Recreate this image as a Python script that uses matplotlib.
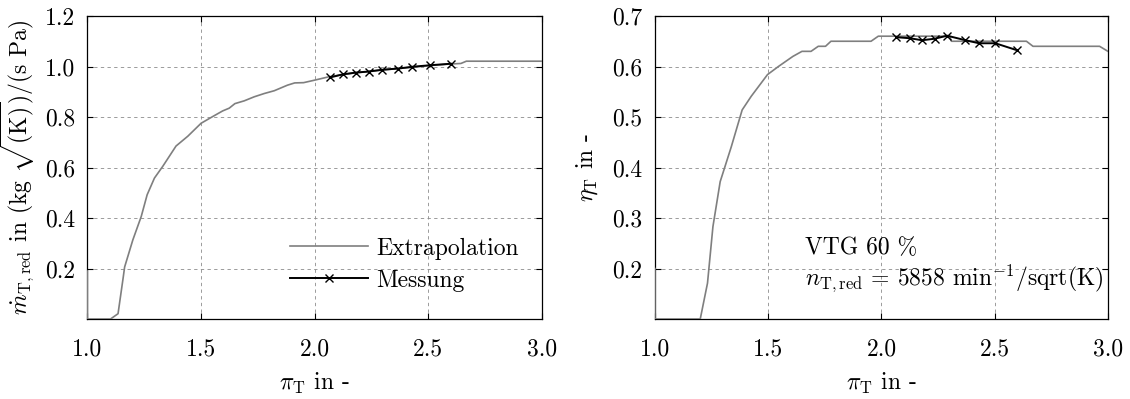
import numpy as np
import matplotlib
matplotlib.use("Agg")
import matplotlib.pyplot as plt

plt.rcParams['font.family'] = ['cmr10', 'DejaVu Serif']
plt.rcParams['mathtext.fontset'] = 'cm'
plt.rcParams['axes.unicode_minus'] = False
plt.rcParams['axes.formatter.use_mathtext'] = True
plt.rcParams['font.size'] = 17

# extrapolated mass flow curve
mdot_ext_pi = [1.0, 1.0, 1.102, 1.135, 1.157, 1.164, 1.200, 1.237, 1.263, 1.295, 1.332,
               1.390, 1.442, 1.500, 1.544, 1.595, 1.624, 1.649, 1.690, 1.734, 1.778,
               1.822, 1.880, 1.912, 1.951, 2.000, 2.061, 2.124, 2.181, 2.237, 2.295,
               2.368, 2.430, 2.507, 2.599, 2.643, 2.667, 3.0]
mdot_ext = [0.19, 0.0, 0.0, 0.021, 0.160, 0.206, 0.313, 0.406, 0.492, 0.558, 0.605,
            0.685, 0.724, 0.775, 0.798, 0.824, 0.835, 0.853, 0.864, 0.880, 0.893,
            0.904, 0.926, 0.935, 0.936, 0.946, 0.959, 0.968, 0.975, 0.980, 0.986,
            0.992, 0.997, 1.004, 1.010, 1.012, 1.021, 1.021]

# measured points
meas_pi = [2.069, 2.124, 2.181, 2.237, 2.295, 2.368, 2.430, 2.507, 2.599]
meas_mdot = [0.957, 0.969, 0.976, 0.980, 0.987, 0.992, 0.999, 1.005, 1.011]
meas_pi_eta = [2.066, 2.125, 2.179, 2.235, 2.290, 2.371, 2.431, 2.503, 2.600]
meas_eta = [0.658, 0.656, 0.652, 0.655, 0.661, 0.652, 0.646, 0.646, 0.632]

# extrapolated efficiency curve
eta_ext_pi = [1.0, 1.0, 1.200, 1.232, 1.256, 1.288, 1.337, 1.385, 1.425, 1.497, 1.545,
              1.609, 1.649, 1.689, 1.721, 1.753, 1.777, 1.954, 1.986, 2.301, 2.309,
              2.640, 2.669, 2.963, 3.0]
eta_ext = [0.20, 0.10, 0.10, 0.171, 0.283, 0.372, 0.441, 0.514, 0.541, 0.584, 0.600,
           0.620, 0.630, 0.630, 0.640, 0.640, 0.650, 0.650, 0.660, 0.660, 0.650,
           0.650, 0.640, 0.640, 0.630]

x_ticks = [1.0, 1.5, 2.0, 2.5, 3.0]
mdot_ticks = [0.2, 0.4, 0.6, 0.8, 1.0, 1.2]
eta_ticks = [0.2, 0.3, 0.4, 0.5, 0.6, 0.7]

gray = '#7f7f7f'

fig = plt.figure(figsize=(11.3, 3.99), dpi=100)
ax1 = fig.add_axes([0.0773, 0.2005, 0.4024, 0.7594])
ax2 = fig.add_axes([0.5796, 0.2005, 0.4009, 0.7594])


def style(ax, yticks, ylim):
    ax.set_xlim(1.0, 3.0)
    ax.set_ylim(*ylim)
    ax.set_xticks(x_ticks)
    ax.set_xticklabels([f'{t:.1f}' for t in x_ticks])
    ax.set_yticks(yticks)
    ax.set_yticklabels([f'{t:.1f}' for t in yticks])
    ax.grid(True, color='#8c8c8c', linestyle=(0, (4, 4)), linewidth=0.6)
    ax.tick_params(direction='in', length=4, width=0.8, top=True, right=True)
    ax.tick_params(axis='x', pad=14)
    ax.tick_params(axis='y', pad=9)
    for s in ax.spines.values():
        s.set_linewidth(0.9)
    ax.set_xlabel(r'$\pi_\mathrm{T}$ in -')
    ax.xaxis.set_label_coords(0.5, -0.172)


# left: mass flow
style(ax1, mdot_ticks, (0.0, 1.2))
ax1.plot(mdot_ext_pi, mdot_ext, color=gray, lw=1.2, label='Extrapolation', zorder=3)
ax1.plot(meas_pi, meas_mdot, color='black', lw=1.4, marker='x', ms=6, mew=1.0,
         label='Messung', zorder=4)
ax1.set_ylabel(r'$\dot{m}_\mathrm{T,red}$ in (kg $\sqrt{\mathrm{(K)}}$)/(s Pa)')
ax1.yaxis.set_label_coords(-0.11, 0.5)
leg = ax1.legend(loc='lower right', bbox_to_anchor=(0.995, 0.02), frameon=False,
                 handlelength=3.3, handletextpad=0.35, labelspacing=0.42)

# right: efficiency
style(ax2, eta_ticks, (0.1, 0.7))
ax2.plot(eta_ext_pi, eta_ext, color=gray, lw=1.2, zorder=3)
ax2.plot(meas_pi_eta, meas_eta, color='black', lw=1.4, marker='x', ms=6, mew=1.0, zorder=4)
ax2.set_ylabel(r'$\eta_\mathrm{T}$ in -')
ax2.yaxis.set_label_coords(-0.121, 0.5)
ax2.text(1.662, 0.241, 'VTG 60 %', va='center', ha='left')
ax2.text(1.662, 0.181, r'$n_\mathrm{T,red}$ = 5858 min$^\mathrm{-1}$/sqrt(K)',
         va='center', ha='left')

fig.savefig('out.png', dpi=100)
